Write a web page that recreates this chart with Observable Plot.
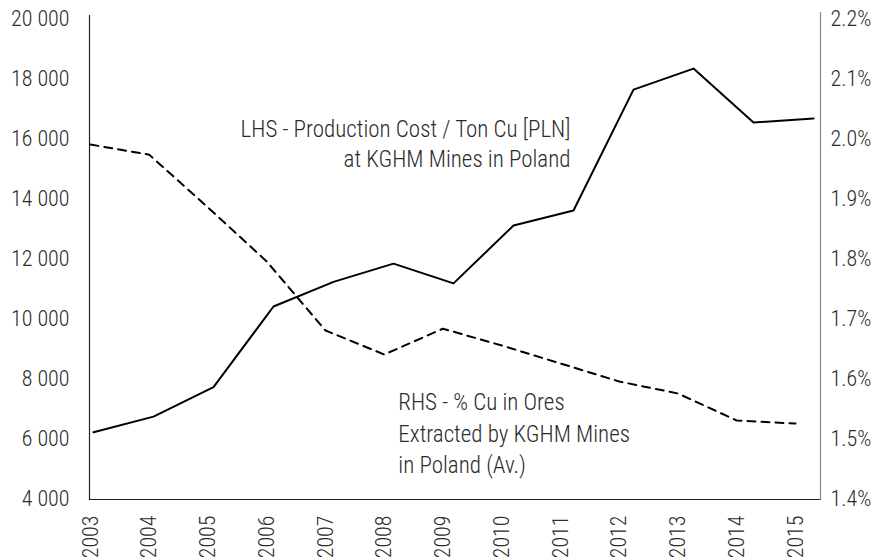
<!DOCTYPE html>
<html><head><meta charset="utf-8">
<script src="https://cdn.jsdelivr.net/npm/d3@7"></script>
<script src="https://cdn.jsdelivr.net/npm/@observablehq/plot@0.6"></script>
<style>
body{margin:0;background:#fff;}
#chart{position:relative;width:887px;height:560px;overflow:hidden;}
#chart svg{position:absolute;left:0;top:0;}
</style></head><body><div id="chart"></div>
<script>
const years = [2003,2004,2005,2006,2007,2008,2009,2010,2011,2012,2013,2014,2015];
const costPLN = [6210,6730,7710,10400,11220,11830,11170,13100,13600,17630,18330,16530,16670];
const cuGrade = [1.990,1.973,1.885,1.795,1.680,1.640,1.683,1.655,1.625,1.595,1.575,1.530,1.525];
const leftTicks = [4000,6000,8000,10000,12000,14000,16000,18000,20000];
const rightTicks = [1.4,1.5,1.6,1.7,1.8,1.9,2.0,2.1,2.2];
const lhsNote = [{x:2010.95, y:15870, text:"LHS - Production Cost / Ton Cu [PLN]\nat KGHM Mines in Poland"}];
const rhsNote = [{x:2008.08, y:6220, text:"RHS - % Cu in Ores\nExtracted by KGHM Mines\nin Poland (Av.)"}];

const FONT = '"Roboto Condensed","Liberation Sans Narrow","DejaVu Sans Condensed",Roboto,sans-serif';
const TXT = "#2b2b2b";
const TICK = 22;
const fmtThousands = d => d3.format(",")(d).replace(/,/g, " ");
const fmtPct = d => d.toFixed(1) + "%";

const solid = years.map((y,i) => ({year:y, cost:costPLN[i]}));
const dashed = years.map((y,i) => ({year:y, grade:cuGrade[i]}));

const chart = document.getElementById("chart");

const plotA = Plot.plot({
  width:887, height:560,
  marginLeft:89, marginRight:67, marginTop:15, marginBottom:61,
  style:{fontFamily:FONT, fontSize:TICK+"px", color:TXT, background:"transparent", overflow:"visible"},
  x:{domain:[2003,2015], range:[93,813], axis:null, label:null},
  y:{domain:[4000,20000], range:[498,18], axis:null, label:null},
  marks:[
    Plot.axisY(leftTicks,{anchor:"left", label:null, tickSize:0, tickPadding:20, tickFormat:fmtThousands, fill:TXT, fontSize:TICK, fontWeight:300}),
    Plot.frame({anchor:"left", stroke:"#222", strokeWidth:1.2}),
    Plot.line(solid,{x:"year", y:"cost", stroke:"#000", strokeWidth:2}),
    Plot.text(lhsNote,{x:"x", y:"y", text:"text", textAnchor:"end", lineHeight:1.3, fontSize:23, fontWeight:300, fill:TXT}),
    Plot.text(rhsNote,{x:"x", y:"y", text:"text", textAnchor:"start", lineHeight:1.37, fontSize:23, fontWeight:300, fill:TXT})
  ]
});
chart.appendChild(plotA);

const plotB = Plot.plot({
  width:887, height:560,
  marginLeft:89, marginRight:67, marginTop:12, marginBottom:61,
  style:{fontFamily:FONT, fontSize:TICK+"px", color:TXT, background:"transparent", overflow:"visible"},
  x:{domain:[2003,2015], range:[90,795], axis:null, label:null},
  y:{domain:[1.4,2.2], range:[498,18], axis:null, label:null},
  marks:[
    Plot.axisX(years,{anchor:"bottom", label:null, tickSize:0, tickPadding:16, tickRotate:-90, tickFormat:d=>String(d), fill:TXT, fontSize:TICK, fontWeight:300}),
    Plot.frame({anchor:"bottom", stroke:"#222", strokeWidth:1.2}),
    Plot.axisY(rightTicks,{anchor:"right", label:null, tickSize:0, tickPadding:10, tickFormat:fmtPct, fill:TXT, fontSize:TICK, fontWeight:300}),
    Plot.frame({anchor:"right", stroke:"#888", strokeWidth:1.2}),
    Plot.line(dashed,{x:"year", y:"grade", stroke:"#000", strokeWidth:2, strokeDasharray:"8,6"})
  ]
});
chart.appendChild(plotB);
</script></body></html>
